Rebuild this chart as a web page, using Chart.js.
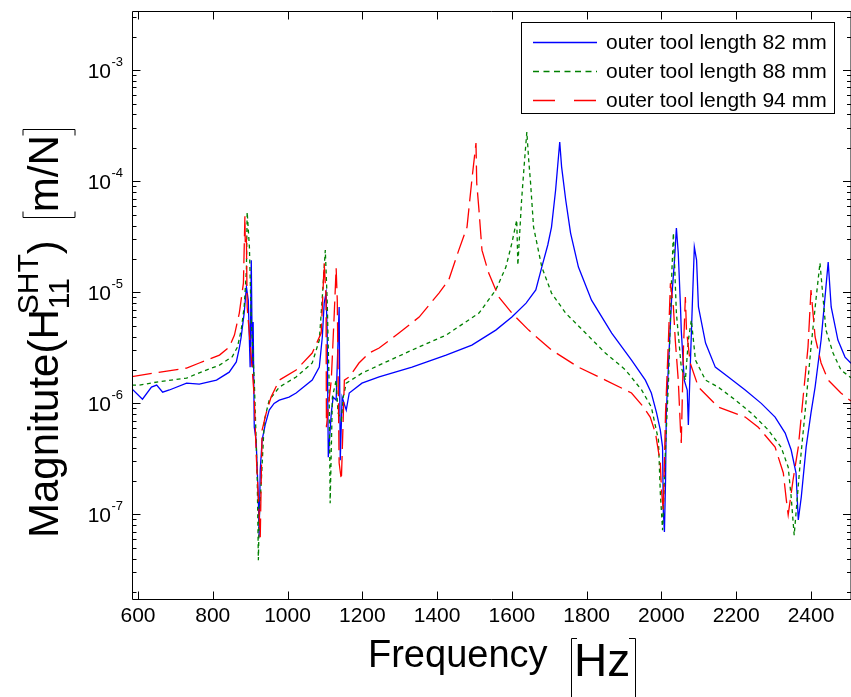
<!DOCTYPE html>
<html><head><meta charset="utf-8">
<script src="https://cdn.jsdelivr.net/npm/chart.js@4.4.1/dist/chart.umd.min.js"></script>
<style>html,body{margin:0;padding:0;background:#fff;overflow:hidden}canvas{display:block}</style>
</head><body>
<canvas id="c" width="851" height="697"></canvas>
<script>
// ---- data ----
const seriesLabels = ['outer tool length 82 mm', 'outer tool length 88 mm', 'outer tool length 94 mm'];
const xTickValues = [600, 800, 1000, 1200, 1400, 1600, 1800, 2000, 2200, 2400];
const yDecades = [-3, -4, -5, -6, -7];

const freq82 = [584,612,636,650,666,684,730,764,810,844,863,871,876,884,890,895,900,903,906,908,911,916,922,924,927,932,940,951,964,978,1004,1023,1066,1085,1093,1098,1103,1106,1109,1117,1122,1130,1138,1141,1146,1157,1165,1199,1245,1333,1424,1493,1557,1600,1638,1664,1680,1696,1706,1717,1728,1733,1744,1757,1778,1813,1867,1920,1957,1973,1987,1997,2003,2005,2008,2011,2013,2019,2027,2035,2040,2045,2051,2053,2061,2069,2072,2075,2083,2088,2094,2099,2118,2144,2179,2224,2267,2304,2331,2347,2360,2366,2374,2387,2400,2411,2427,2440,2446,2454,2472,2491,2507];
const mag82 = [1.35e-6,1.09e-6,1.40e-6,1.46e-6,1.26e-6,1.32e-6,1.52e-6,1.49e-6,1.62e-6,1.91e-6,2.36e-6,3.15e-6,3.96e-6,6.5e-6,1.12e-5,8.5e-6,2.12e-6,1.95e-5,2.1e-6,5.4e-6,6.1e-7,4.67e-7,1.35e-7,6.24e-8,2.51e-7,4.67e-7,6.38e-7,8.7e-7,1.0e-6,1.07e-6,1.14e-6,1.24e-6,1.62e-6,2.12e-6,3.96e-6,8.0e-6,9.85e-6,4.57e-6,3.28e-7,8.2e-7,1.14e-6,1.07e-6,7.38e-6,3.08e-7,1.14e-6,8.7e-7,1.24e-6,1.52e-6,1.73e-6,2.12e-6,2.72e-6,3.35e-6,4.57e-6,5.99e-6,8.0e-6,1.05e-5,1.69e-5,2.67e-5,3.87e-5,8.35e-5,2.26e-4,1.35e-4,6.79e-5,3.42e-5,1.69e-5,8.5e-6,4.30e-6,2.45e-6,1.62e-6,1.24e-6,8.2e-7,5.75e-7,4.04e-7,1.09e-7,6.93e-8,2.04e-7,8.2e-7,2.31e-6,8.5e-6,1.95e-5,3.8e-5,2.26e-5,7.38e-6,4.57e-6,1.62e-6,1.32e-6,6.38e-7,1.32e-6,8.5e-6,2.56e-5,1.95e-5,7.38e-6,3.49e-6,2.12e-6,1.73e-6,1.32e-6,1.0e-6,7.53e-7,5.4e-7,3.8e-7,2.36e-7,8.9e-8,1.43e-7,4.04e-7,8.2e-7,1.40e-6,3.72e-6,1.12e-5,1.87e-5,7.38e-6,3.72e-6,2.61e-6,2.3e-6];

const freq88 = [584,604,657,730,772,818,852,866,876,884,890,892,898,903,911,916,919,922,924,930,938,951,978,1023,1066,1085,1093,1101,1106,1111,1114,1120,1130,1135,1144,1149,1157,1199,1245,1333,1424,1512,1557,1584,1600,1613,1616,1626,1634,1640,1645,1650,1658,1680,1706,1744,1797,1850,1904,1947,1973,1992,1997,2003,2011,2019,2027,2032,2040,2053,2064,2072,2080,2091,2118,2152,2198,2240,2286,2320,2339,2347,2355,2360,2371,2384,2400,2414,2424,2432,2440,2459,2480,2507];
const mag88 = [1.46e-6,1.46e-6,1.57e-6,1.69e-6,1.93e-6,2.21e-6,2.63e-6,3.21e-6,4.57e-6,7.38e-6,1.59e-5,5.29e-5,2.56e-5,5.62e-6,1.62e-6,4.67e-7,2.04e-7,3.87e-8,8.9e-8,2.04e-7,7.08e-7,1.07e-6,1.40e-6,1.73e-6,2.31e-6,3.72e-6,9.07e-6,2.4e-5,8.5e-6,1.62e-6,1.26e-7,1.14e-6,1.62e-6,8.2e-7,7.08e-7,1.14e-6,1.52e-6,1.87e-6,2.21e-6,3.02e-6,4.12e-6,6.5e-6,1.05e-5,1.69e-5,2.78e-5,4.48e-5,1.76e-5,6.79e-5,1.56e-4,2.78e-4,1.56e-4,9.66e-5,3.87e-5,1.69e-5,9.85e-6,6.5e-6,4.30e-6,2.84e-6,2.0e-6,1.32e-6,9.27e-7,4.67e-7,1.56e-7,7.22e-8,4.04e-7,1.62e-6,1.29e-5,3.42e-5,6.5e-6,2.12e-6,1.62e-6,3.72e-6,5.62e-6,2.45e-6,1.62e-6,1.40e-6,1.07e-6,8.2e-7,5.75e-7,4.04e-7,2.67e-7,1.43e-7,6.5e-8,1.03e-7,2.9e-7,8.2e-7,3.21e-6,9.07e-6,1.84e-5,9.07e-6,4.57e-6,2.84e-6,2.0e-6,1.70e-6];

const freq94 = [584,639,730,764,818,844,858,871,882,886,887,890,892,903,911,916,924,927,932,943,956,978,1023,1066,1090,1095,1098,1103,1104,1111,1117,1125,1130,1133,1138,1144,1152,1165,1191,1218,1245,1298,1352,1405,1431,1458,1480,1493,1504,1506,1512,1520,1538,1565,1600,1645,1706,1778,1850,1920,1952,1970,1984,1997,2000,2005,2011,2019,2024,2032,2037,2045,2051,2053,2059,2064,2067,2077,2099,2152,2224,2259,2304,2326,2334,2339,2352,2366,2379,2392,2400,2411,2427,2446,2480,2507];
const mag94 = [1.74e-6,1.87e-6,2.08e-6,2.31e-6,2.72e-6,3.21e-6,4.12e-6,6.5e-6,1.21e-5,4.9e-5,2.67e-5,2.96e-5,7.38e-6,2.61e-6,1.14e-6,3.57e-7,1.03e-7,6.24e-8,5.75e-7,8.2e-7,1.14e-6,1.62e-6,2.0e-6,2.84e-6,4.30e-6,1.05e-5,1.84e-5,9.07e-6,6.1e-7,1.07e-6,1.62e-6,6.5e-6,1.66e-5,8.5e-6,2.9e-7,2.04e-7,1.62e-6,1.73e-6,2.31e-6,2.84e-6,3.15e-6,4.30e-6,5.99e-6,9.85e-6,1.29e-5,2.4e-5,3.87e-5,1.03e-4,2.21e-4,9.66e-5,5.51e-5,2.4e-5,1.49e-5,9.07e-6,6.5e-6,4.57e-6,3.02e-6,2.12e-6,1.62e-6,1.24e-6,9.27e-7,7.53e-7,5.4e-7,2.9e-7,1.66e-7,1.09e-7,8.2e-7,3.96e-6,1.21e-5,7.38e-6,3.72e-6,1.62e-6,5.75e-7,4.39e-7,3.21e-6,9.07e-6,4.57e-6,2.31e-6,1.40e-6,9.27e-7,7.53e-7,6.1e-7,4.04e-7,2.36e-7,1.35e-7,9.9e-8,2.04e-7,4.04e-7,1.14e-6,3.21e-6,1.05e-5,3.96e-6,2.31e-6,1.62e-6,1.24e-6,1.05e-6];

const xMin = 584, xMax = 2507;
const yMin = 1.73e-8, yMax = 3.42e-3;

// ---- styles ----
const FONT = '"Liberation Sans", Arial, sans-serif';
const colors = ['#0000ff', '#008000', '#ff0000'];
const plotDash = [[], [4, 3.5], [20, 7]];
const legendDash = [[], [6, 4.5], [22, 19]];

function pts(f, m) { return f.map((v, i) => ({ x: v, y: m[i] })); }

const decor = {
  id: 'decor',
  afterDraw(chart) {
    const ctx = chart.ctx, a = chart.chartArea, xs = chart.scales.x, ys = chart.scales.y;
    ctx.save();
    ctx.strokeStyle = '#000'; ctx.lineWidth = 1; ctx.setLineDash([]);
    const L = Math.round(a.left) + 0.5, T = Math.round(a.top) + 0.5, B = Math.round(a.bottom) + 0.5, R = a.right;
    ctx.beginPath();
    ctx.moveTo(R, T); ctx.lineTo(L, T); ctx.lineTo(L, B); ctx.lineTo(R, B); ctx.lineTo(R, T);
    for (let d = -9; d <= -2; d++) {
      for (let m = 1; m <= 9; m++) {
        const v = m * Math.pow(10, d);
        if (v < yMin || v > yMax) continue;
        const py = Math.round(ys.getPixelForValue(v)) + 0.5;
        const len = m === 1 ? 8 : 4;
        ctx.moveTo(L, py); ctx.lineTo(L + len, py);
        ctx.moveTo(R, py); ctx.lineTo(R - len, py);
      }
    }
    xTickValues.forEach(v => {
      const px = Math.round(xs.getPixelForValue(v)) + 0.5;
      ctx.moveTo(px, B); ctx.lineTo(px, B - 8);
      ctx.moveTo(px, T); ctx.lineTo(px, T + 8);
    });
    ctx.stroke();

    // tick labels
    ctx.fillStyle = '#000';
    ctx.font = '21px ' + FONT;
    ctx.textAlign = 'center'; ctx.textBaseline = 'alphabetic';
    xTickValues.forEach(v => ctx.fillText(String(v), xs.getPixelForValue(v), 622));
    yDecades.forEach(d => {
      const py = ys.getPixelForValue(Math.pow(10, d));
      ctx.font = '21px ' + FONT; ctx.textAlign = 'right';
      ctx.fillText('10', 111, py + 7.5);
      ctx.font = '13px ' + FONT; ctx.textAlign = 'left';
      ctx.fillText(String(d), 111.5, py - 4.5);
    });

    // x title
    ctx.textAlign = 'left';
    ctx.font = '38px ' + FONT;
    ctx.fillText('Frequency', 368, 667);
    ctx.font = '46px ' + FONT;
    ctx.fillText('Hz', 574, 676);
    ctx.beginPath();
    ctx.moveTo(577, 638.5); ctx.lineTo(571.5, 638.5); ctx.lineTo(571.5, 700);
    ctx.moveTo(629, 638.5); ctx.lineTo(635.5, 638.5); ctx.lineTo(635.5, 700);
    ctx.stroke();

    // y title (rotated)
    ctx.save();
    ctx.rotate(-Math.PI / 2);
    let u = -538; const base = 58;
    ctx.font = '42px ' + FONT;
    ctx.fillText('Magnitute(H', u, base);
    u += ctx.measureText('Magnitute(H').width;
    ctx.font = '30px ' + FONT;
    const wSup = ctx.measureText('SHT').width, wSub = ctx.measureText('11').width;
    ctx.fillText('SHT', u - 5, base - 20);
    ctx.fillText('11', u, base + 11);
    u += Math.max(wSup - 5, wSub);
    ctx.font = '42px ' + FONT;
    ctx.fillText(')', u, base);
    u += ctx.measureText(')').width + 22;
    const bx1 = 23, bx2 = 75;
    ctx.beginPath();
    ctx.moveTo(Math.round(u) + 6.5, bx1); ctx.lineTo(Math.round(u) + 0.5, bx1); ctx.lineTo(Math.round(u) + 0.5, bx2); ctx.lineTo(Math.round(u) + 6.5, bx2);
    ctx.stroke();
    u += 6;
    const wMN = ctx.measureText('m/N').width;
    ctx.fillText('m/N', u, base);
    u += wMN + 5;
    ctx.beginPath();
    ctx.moveTo(Math.round(u) - 5.5, bx1); ctx.lineTo(Math.round(u) + 0.5, bx1); ctx.lineTo(Math.round(u) + 0.5, bx2); ctx.lineTo(Math.round(u) - 5.5, bx2);
    ctx.stroke();
    ctx.restore();

    // legend
    const lx = 521.5, ly = 22.5, lw = 313, lh = 91;
    ctx.fillStyle = '#fff';
    ctx.fillRect(lx, ly, lw, lh);
    ctx.strokeStyle = '#000'; ctx.lineWidth = 1; ctx.setLineDash([]);
    ctx.strokeRect(lx, ly, lw, lh);
    const rows = [42.5, 71.5, 100.5];
    chart.data.datasets.forEach((ds, i) => {
      ctx.beginPath();
      ctx.strokeStyle = ds.borderColor; ctx.lineWidth = 1.3;
      ctx.setLineDash(legendDash[i]);
      ctx.moveTo(533, rows[i]); ctx.lineTo(597, rows[i]);
      ctx.stroke();
      ctx.setLineDash([]);
      ctx.fillStyle = '#000';
      ctx.font = '21px ' + FONT; ctx.textAlign = 'left'; ctx.textBaseline = 'middle';
      ctx.fillText(ds.label, 606, rows[i] + 1);
    });
    ctx.restore();
  }
};

new Chart(document.getElementById('c'), {
  type: 'line',
  data: {
    datasets: [
      { label: seriesLabels[0], data: pts(freq82, mag82), borderColor: colors[0], borderDash: plotDash[0], order: 2 },
      { label: seriesLabels[1], data: pts(freq88, mag88), borderColor: colors[1], borderDash: plotDash[1], order: 1 },
      { label: seriesLabels[2], data: pts(freq94, mag94), borderColor: colors[2], borderDash: plotDash[2], order: 0 }
    ]
  },
  options: {
    responsive: false, animation: false, devicePixelRatio: 1,
    layout: { padding: { top: 11, right: -2, left: 0, bottom: 0 } },
    elements: { point: { radius: 0 }, line: { borderWidth: 1.3, tension: 0, fill: false } },
    plugins: { legend: { display: false }, tooltip: { enabled: false } },
    scales: {
      x: { type: 'linear', min: xMin, max: xMax, grid: { display: false }, border: { display: false },
           ticks: { display: false }, afterFit: s => { s.height = 98; } },
      y: { type: 'logarithmic', min: yMin, max: yMax, grid: { display: false }, border: { display: false },
           ticks: { display: false }, afterFit: s => { s.width = 132; } }
    }
  },
  plugins: [decor]
});
</script>
</body></html>
